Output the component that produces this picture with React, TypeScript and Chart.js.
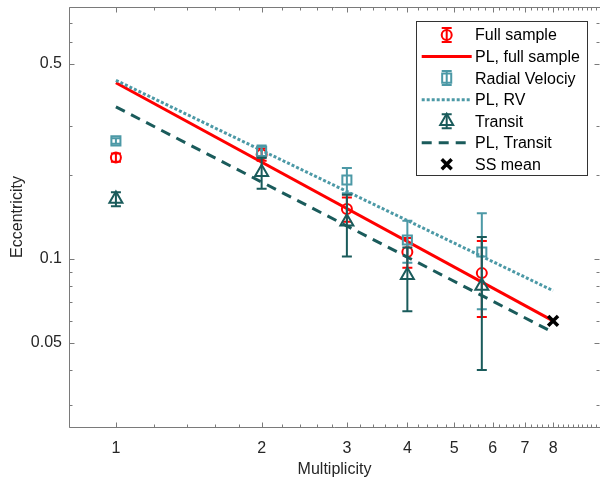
import React, { useEffect, useRef } from 'react';
import { Chart, registerables } from 'chart.js';

Chart.register(...registerables);

// ---------- data ----------
const multiplicity = [1, 2, 3, 4, 5.7];

const fullEcc = [0.231, 0.237, 0.151, 0.106, 0.089];
const fullErr = [0.008, 0.012, 0.015, 0.013, 0.027];

const rvEcc = [0.265, 0.243, 0.192, 0.117, 0.106];
const rvErr = [0.006, 0.012, 0.020, 0.020, 0.040];

const transitEcc = [0.164, 0.2045, 0.136, 0.0875, 0.080];
const transitErr = [0.0095, 0.026, 0.034, 0.0225, 0.040];

const plX = [1, 8];
const plFull = [0.428, 0.060];
const plRV = [0.437, 0.077];
const plTransit = [0.351, 0.0546];

const ssX = [8];
const ssEcc = [0.06];

const legendLabels = [
  'Full sample',
  'PL, full sample',
  'Radial Velociy',
  'PL, RV',
  'Transit',
  'PL, Transit',
  'SS mean',
];

const xLabelTicks = [1, 2, 3, 4, 5, 6, 7, 8];
const yLabelTicks = [0.05, 0.1, 0.5];
const yMinorTicks = [0.03, 0.04, 0.06, 0.07, 0.08, 0.09, 0.2, 0.3, 0.6, 0.7];
const xMinorTicks: number[] = [];
for (let k = 4; k <= 50; k++) {
  const v = Math.round(k * 0.2 * 10) / 10;
  if (!xLabelTicks.includes(v)) xMinorTicks.push(v);
}

// ---------- styles ----------
const RED = '#ff0000';
const RV = '#4c99a6';
const TR = '#1a5b5b';
const FONT = '"Liberation Sans", Arial, Helvetica, sans-serif';
const TEXT = '#262626';
const AXIS = '#7a7a7a';

const pts = (xs: number[], ys: number[]) => xs.map((x, i) => ({ x, y: ys[i] }));

function drawMarker(ctx: CanvasRenderingContext2D, style: string, x: number, y: number, r: number) {
  ctx.beginPath();
  if (style === 'circle') {
    ctx.arc(x, y, r, 0, Math.PI * 2);
  } else if (style === 'rect') {
    const s = r * Math.SQRT1_2;
    ctx.rect(x - s, y - s, 2 * s, 2 * s);
  } else if (style === 'triangle') {
    let rad = 0;
    ctx.moveTo(x + Math.sin(rad) * r, y - Math.cos(rad) * r);
    rad += (2 * Math.PI) / 3;
    ctx.lineTo(x + Math.sin(rad) * r, y - Math.cos(rad) * r);
    rad += (2 * Math.PI) / 3;
    ctx.lineTo(x + Math.sin(rad) * r, y - Math.cos(rad) * r);
    ctx.closePath();
  } else if (style === 'crossRot') {
    const o = r * Math.SQRT1_2;
    ctx.moveTo(x - o, y - o);
    ctx.lineTo(x + o, y + o);
    ctx.moveTo(x - o, y + o);
    ctx.lineTo(x + o, y - o);
  }
  ctx.stroke();
}

const errorBarPlugin = {
  id: 'errorBars',
  beforeDatasetDraw(chart: any, args: any) {
    const ds = chart.data.datasets[args.index];
    if (!ds.errors) return;
    const { ctx, scales } = chart;
    const xs = scales.x;
    const ys = scales.y;
    ctx.save();
    ctx.strokeStyle = ds.borderColor;
    ctx.lineWidth = 2;
    ds.data.forEach((p: any, i: number) => {
      const e = ds.errors[i];
      const px = xs.getPixelForValue(p.x);
      const top = ys.getPixelForValue(p.y + e);
      const bot = ys.getPixelForValue(p.y - e);
      const cap = 5;
      ctx.beginPath();
      ctx.moveTo(px, top);
      ctx.lineTo(px, bot);
      ctx.moveTo(px - cap, top);
      ctx.lineTo(px + cap, top);
      ctx.moveTo(px - cap, bot);
      ctx.lineTo(px + cap, bot);
      ctx.stroke();
    });
    ctx.restore();
  },
};

const axesBoxPlugin = {
  id: 'axesBox',
  afterDatasetsDraw(chart: any) {
    const { ctx, chartArea: a, scales } = chart;
    const xs = scales.x;
    const ys = scales.y;
    ctx.save();
    ctx.strokeStyle = AXIS;
    ctx.lineWidth = 1;
    const L = Math.round(a.left) + 0.5;
    const R = Math.round(a.right) - 0.5;
    const T = Math.round(a.top) + 0.5;
    const B = Math.round(a.bottom) + 0.5;
    ctx.beginPath();
    ctx.moveTo(L, T);
    ctx.lineTo(a.right, T);
    ctx.moveTo(L, B);
    ctx.lineTo(a.right, B);
    ctx.moveTo(L, T);
    ctx.lineTo(L, B);
    const xt = (v: number, len: number) => {
      const p = Math.round(xs.getPixelForValue(v)) + 0.5;
      ctx.moveTo(p, B);
      ctx.lineTo(p, B - len);
      ctx.moveTo(p, T);
      ctx.lineTo(p, T + len);
    };
    const yt = (v: number, len: number) => {
      const p = Math.round(ys.getPixelForValue(v)) + 0.5;
      ctx.moveTo(L, p);
      ctx.lineTo(L + len, p);
      ctx.moveTo(R, p);
      ctx.lineTo(R - len, p);
    };
    xLabelTicks.forEach((v) => xt(v, 5));
    xMinorTicks.forEach((v) => xt(v, 3));
    yLabelTicks.forEach((v) => yt(v, 5));
    yMinorTicks.forEach((v) => yt(v, 3));
    ctx.stroke();
    ctx.restore();
  },
};

const legendPlugin = {
  id: 'customLegend',
  afterDraw(chart: any) {
    const { ctx } = chart;
    const bx = 416.5, by = 21.5, bw = 171, bh = 154;
    ctx.save();
    ctx.fillStyle = '#ffffff';
    ctx.fillRect(bx, by, bw, bh);
    ctx.strokeStyle = '#333333';
    ctx.lineWidth = 1;
    ctx.strokeRect(bx, by, bw, bh);
    const items = [
      { kind: 'err', style: 'circle', r: 5, color: RED },
      { kind: 'line', color: RED, dash: [] as number[] },
      { kind: 'err', style: 'rect', r: 6.4, color: RV },
      { kind: 'line', color: RV, dash: [3, 2] },
      { kind: 'err', style: 'triangle', r: 7.5, color: TR },
      { kind: 'line', color: TR, dash: [10, 7] },
      { kind: 'pt', style: 'crossRot', r: 7, color: '#000000' },
    ];
    const lx0 = 421.7, lx1 = 471.7, mx = 446.7, tx = 475;
    ctx.font = `16px ${FONT}`;
    ctx.textBaseline = 'middle';
    ctx.textAlign = 'left';
    items.forEach((it: any, i: number) => {
      const cy = 35 + i * 21.55;
      ctx.strokeStyle = it.color;
      if (it.kind === 'line') {
        ctx.lineWidth = 3;
        ctx.setLineDash(it.dash);
        ctx.beginPath();
        ctx.moveTo(lx0, cy);
        ctx.lineTo(lx1, cy);
        ctx.stroke();
        ctx.setLineDash([]);
      } else if (it.kind === 'err') {
        ctx.lineWidth = 2;
        ctx.beginPath();
        ctx.moveTo(mx, cy - 7);
        ctx.lineTo(mx, cy + 7);
        ctx.moveTo(mx - 5, cy - 7);
        ctx.lineTo(mx + 5, cy - 7);
        ctx.moveTo(mx - 5, cy + 7);
        ctx.lineTo(mx + 5, cy + 7);
        ctx.stroke();
        drawMarker(ctx, it.style, mx, cy, it.r);
      } else {
        ctx.lineWidth = 3.5;
        drawMarker(ctx, it.style, mx, cy, it.r);
      }
      ctx.fillStyle = '#000000';
      ctx.fillText(legendLabels[i], tx, cy + 1);
    });
    ctx.restore();
  },
};

const zeroPad = (s: any) => {
  s.paddingTop = 0;
  s.paddingBottom = 0;
  s.paddingLeft = 0;
  s.paddingRight = 0;
};

export default function App() {
  const canvasRef = useRef<HTMLCanvasElement | null>(null);

  useEffect(() => {
    document.body.style.margin = '0';
    const canvas = canvasRef.current;
    if (!canvas) return;

    const markerDs = (label: string, ys: number[], errs: number[], color: string, style: string, r: number, order: number) => ({
      label,
      data: pts(multiplicity, ys),
      errors: errs,
      showLine: false,
      borderColor: color,
      backgroundColor: 'rgba(0,0,0,0)',
      pointStyle: style,
      pointRadius: r,
      pointBorderWidth: 2,
      pointBorderColor: color,
      pointBackgroundColor: 'rgba(0,0,0,0)',
      order,
    });
    const lineDs = (label: string, ys: number[], color: string, dash: number[], order: number) => ({
      label,
      data: pts(plX, ys),
      showLine: true,
      borderColor: color,
      borderWidth: 3,
      borderDash: dash,
      borderCapStyle: 'butt',
      pointRadius: 0,
      fill: false,
      order,
    });

    const chart = new Chart(canvas, {
      type: 'scatter',
      data: {
        datasets: [
          markerDs('Full sample', fullEcc, fullErr, RED, 'circle', 5, 7),
          lineDs('PL, full sample', plFull, RED, [], 6),
          markerDs('Radial Velociy', rvEcc, rvErr, RV, 'rect', 6.4, 5),
          lineDs('PL, RV', plRV, RV, [3, 2], 4),
          markerDs('Transit', transitEcc, transitErr, TR, 'triangle', 7.5, 3),
          lineDs('PL, Transit', plTransit, TR, [10, 7], 2),
          {
            label: 'SS mean',
            data: pts(ssX, ssEcc),
            showLine: false,
            borderColor: '#000000',
            pointStyle: 'crossRot',
            pointRadius: 7,
            pointBorderWidth: 3.5,
            pointBorderColor: '#000000',
            order: 1,
          },
        ] as any,
      },
      options: {
        animation: false,
        responsive: true,
        maintainAspectRatio: false,
        events: [],
        layout: { autoPadding: false, padding: { left: 0, right: 0, top: 7, bottom: 0 } },
        plugins: {
          legend: { display: false },
          tooltip: { enabled: false },
        },
        scales: {
          x: {
            type: 'logarithmic',
            position: 'bottom',
            min: 0.8,
            max: 10,
            grid: { display: false, drawTicks: false },
            border: { display: false },
            afterBuildTicks: (s: any) => {
              s.ticks = xLabelTicks.map((v) => ({ value: v }));
            },
            afterFit: (s: any) => {
              s.height = 52;
              zeroPad(s);
            },
            ticks: {
              autoSkip: false,
              maxRotation: 0,
              padding: 12,
              color: TEXT,
              font: { size: 16, family: FONT },
              callback: (v: any) => String(v),
            },
            title: {
              display: true,
              text: 'Multiplicity',
              color: TEXT,
              font: { size: 16, family: FONT },
              padding: { top: 0, bottom: 0 },
            },
          },
          y: {
            type: 'logarithmic',
            position: 'left',
            min: 0.025,
            max: 0.8,
            grid: { display: false, drawTicks: false },
            border: { display: false },
            afterBuildTicks: (s: any) => {
              s.ticks = yLabelTicks.map((v) => ({ value: v }));
            },
            afterFit: (s: any) => {
              s.width = 69;
              zeroPad(s);
            },
            ticks: {
              autoSkip: false,
              padding: 7,
              color: TEXT,
              font: { size: 16, family: FONT },
              callback: (v: any) => String(v),
            },
            title: {
              display: true,
              text: 'Eccentricity',
              color: TEXT,
              font: { size: 16, family: FONT },
              padding: { top: 8.4, bottom: 0 },
            },
          },
        },
      } as any,
      plugins: [errorBarPlugin, axesBoxPlugin, legendPlugin],
    });

    return () => chart.destroy();
  }, []);

  return (
    <div style={{ position: 'relative', width: 600, height: 479 }}>
      <canvas ref={canvasRef} />
    </div>
  );
}
